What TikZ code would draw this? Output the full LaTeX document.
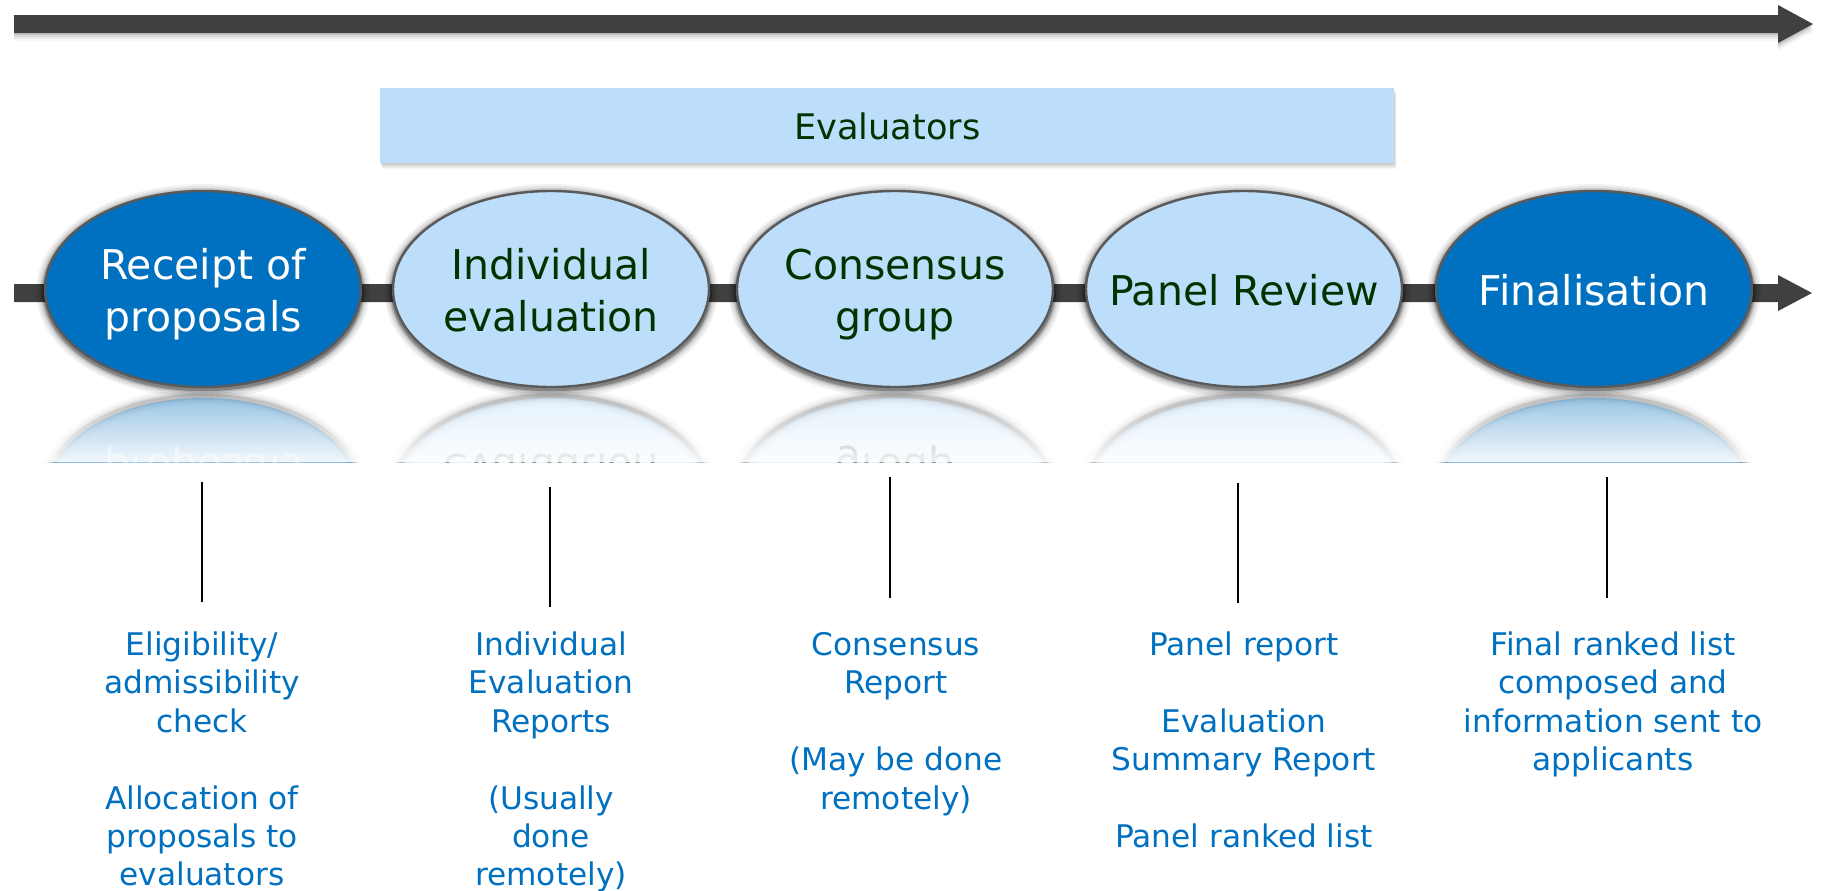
\documentclass[tikz,border=0pt]{standalone}
\usepackage{fontspec}
\setmainfont{DejaVu Sans}
\usetikzlibrary{shapes.geometric,fadings}
\definecolor{dblue}{HTML}{0070C0}
\definecolor{lblue}{HTML}{BDDEFA}
\definecolor{dgreen}{HTML}{003300}
\definecolor{arrcol}{HTML}{404040}
\definecolor{ringcol}{HTML}{5A5A5A}
\tikzfading[name=reflfade, top color=transparent!100, bottom color=transparent!12]
\newcommand\estrut{\rule[-5pt]{0pt}{26pt}}
\newcommand\lstrut{\rule{0pt}{13pt}}
\newcommand\stageglow[3]{%
  \foreach \w/\o in {9/0.05,7/0.06,5/0.09,3.5/0.14,2.2/0.25}{%
    \pgfmathsetmacro\oo{\o*#3}%
    \draw[line width=\w pt, black, draw opacity=\oo] (#1,#2) ellipse [x radius=79pt, y radius=49pt];}}
\newcommand\reflection[4]{% #1 x, #2 fill colour, #3 text colour, #4 text
  \begin{scope}
    \clip (#1-174,392) rectangle (#1+174,462);
    \stageglow{#1}{494}{0.5}
    \fill[#2, fill opacity=0.42] (#1,496) ellipse [x radius=79pt, y radius=49pt];
    \node[stagefont, text=#3, text opacity=0.45, yscale=-1, transform shape, inner sep=0pt, align=center] (r#1) at (#1,496) {#4};
  \end{scope}
  \fill[white, path fading=reflfade] (#1-174,392) rectangle (#1+174,462);}
\begin{document}
\begin{tikzpicture}[x=0.5pt,y=-0.5pt,
  stagefont/.style={font=\fontsize{20.5}{26}\selectfont},
  stage/.style={ellipse, minimum width=158pt, minimum height=98pt, inner sep=0pt,
    draw=ringcol, line width=1.2pt},
  darkstage/.style={stage, fill=dblue},
  lightstage/.style={stage, fill=lblue},
  stagetext/.style={inner sep=0pt, align=center, stagefont},
  darktext/.style={stagetext, text=white},
  lighttext/.style={stagetext, text=dgreen},
  ltext/.style={anchor=north, inner sep=0pt, align=center, text=dblue,
    font=\fontsize{15.6}{19.2}\selectfont},
  vline/.style={line width=1.2pt, black},
  timeline/.style={fill=arrcol, draw=none}]
\useasboundingbox (0,0) rectangle (1822,890);
\fill[white] (0,0) rectangle (1822,890);

% top timeline arrow with soft shadow
\foreach \d/\o in {2/0.10,4/0.07,6/0.05,8/0.03}{
  \fill[black, fill opacity=\o] (14,15+\d) -- (1778,15+\d) -- (1778,5+\d) -- (1813,24+\d) -- (1778,43+\d) -- (1778,33+\d) -- (14,33+\d) -- cycle;}
\fill[timeline] (14,15) -- (1778,15) -- (1778,5) -- (1813,24) -- (1778,43) -- (1778,33) -- (14,33) -- cycle;

% Evaluators bar
\foreach \d in {1,...,6}{
  \fill[black, fill opacity=0.035] (380+\d*0.4,88+\d) rectangle (1394+\d*0.4,163+\d);}
\node[fill=lblue, minimum width=507pt, minimum height=37.5pt, inner sep=0pt, anchor=north west,
  text=dgreen, font=\fontsize{17.6}{21}\selectfont] (ev) at (380,88) {\raisebox{-1.5pt}{Evaluators}};

% middle process arrow
\fill[timeline] (14,284) -- (1778,284) -- (1778,275) -- (1812,293) -- (1778,311) -- (1778,302) -- (14,302) -- cycle;

% glows
\stageglow{203}{291}{1}
\stageglow{551}{291}{1}
\stageglow{895}{291}{1}
\stageglow{1244}{291}{1}
\stageglow{1594}{291}{1}

% stages
\node[darkstage] (e1) at (203,289) {};
\node[lightstage] (e2) at (551,289) {};
\node[lightstage] (e3) at (895,289) {};
\node[lightstage] (e4) at (1244,289) {};
\node[darkstage] (e5) at (1594,289) {};
\node[darktext] (e1t) at (e1) {Receipt of\estrut\\proposals\estrut};
\node[lighttext] (e2t) at (e2) {Individual\estrut\\evaluation\estrut};
\node[lighttext] (e3t) at (e3) {Consensus\estrut\\group\estrut};
\node[lighttext] (e4t) at (e4) {Panel Review\estrut};
\node[darktext] (e5t) at (e5) {Finalisation\estrut};

% reflections
\reflection{203}{dblue}{white}{Receipt of\estrut\\proposals\estrut}
\reflection{551}{lblue}{dgreen}{Individual\estrut\\evaluation\estrut}
\reflection{895}{lblue}{dgreen}{Consensus\estrut\\group\estrut}
\reflection{1244}{lblue}{dgreen}{Panel Review\estrut}
\reflection{1594}{dblue}{white}{Finalisation\estrut}

% vertical lines
\coordinate (l1a) at (202,482); \coordinate (l1b) at (202,602);
\coordinate (l2a) at (550,487); \coordinate (l2b) at (550,607);
\coordinate (l3a) at (890,477); \coordinate (l3b) at (890,598);
\coordinate (l4a) at (1238,483); \coordinate (l4b) at (1238,603);
\coordinate (l5a) at (1607,477); \coordinate (l5b) at (1607,598);
\draw[vline] (l1a) -- (l1b);
\draw[vline] (l2a) -- (l2b);
\draw[vline] (l3a) -- (l3b);
\draw[vline] (l4a) -- (l4b);
\draw[vline] (l5a) -- (l5b);

% descriptions
\node[ltext] (t1) at (202,629) {\lstrut Eligibility/\\admissibility\\check\\[19.2pt]Allocation of\\proposals to\\evaluators};
\node[ltext] (t2) at (551,629) {\lstrut Individual\\Evaluation\\Reports\\[19.2pt](Usually\\done\\remotely)};
\node[ltext] (t3) at (896,629) {\lstrut Consensus\\Report\\[19.2pt](May be done\\remotely)};
\node[ltext] (t4) at (1244,629) {\lstrut Panel report\\[19.2pt]Evaluation\\Summary Report\\[19.2pt]Panel ranked list};
\node[ltext] (t5) at (1613,629) {\lstrut Final ranked list\\composed and\\information sent to\\applicants};
\end{tikzpicture}
\end{document}
